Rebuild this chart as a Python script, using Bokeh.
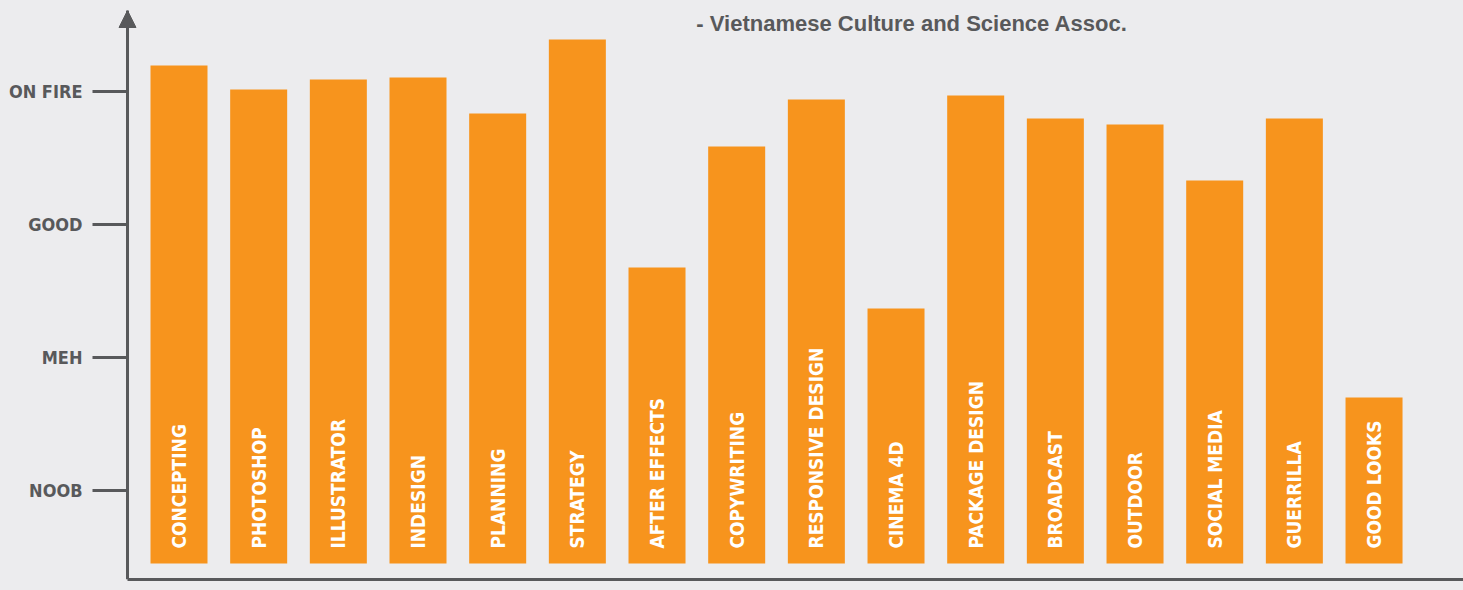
import numpy as np
from bokeh.plotting import figure
from bokeh.models import Range1d, LinearAxis, FixedTicker, ColumnDataSource, Label, Span, Arrow, NormalHead
from bokeh.core.properties import value
from bokeh.embed import file_html
from bokeh.resources import INLINE

skills = ["CONCEPTING", "PHOTOSHOP", "ILLUSTRATOR", "INDESIGN", "PLANNING", "STRATEGY",
          "AFTER EFFECTS", "COPYWRITING", "RESPONSIVE DESIGN", "CINEMA 4D", "PACKAGE DESIGN",
          "BROADCAST", "OUTDOOR", "SOCIAL MEDIA", "GUERRILLA", "GOOD LOOKS"]
levels = [4.195, 4.015, 4.09, 4.105, 3.835, 4.391, 2.677, 3.586, 3.94, 2.368, 3.97,
          3.797, 3.752, 3.331, 3.797, 1.699]
level_ticks = [1, 2, 3, 4]
level_names = ["NOOB", "MEH", "GOOD", "ON FIRE"]
subtitle = "- Vietnamese Culture and Science Assoc."

BG = "#ECECEE"
ORANGE = "#F7941D"
GRAY = "#58595B"
COND = "DejaVu Sans Condensed"
base = 0.451
x0, x1 = -0.5858, 16.623
y0, y1 = 0.331, 4.609
x_axis_pos = -0.1464

x = np.arange(len(skills)) + 0.5
src = ColumnDataSource(dict(x=x, top=levels, name=skills,
                            ly=[base + 15 / 133] * len(skills)))

p = figure(width=1463, height=590, output_backend="svg", toolbar_location=None,
           x_range=Range1d(x0, x1), y_range=Range1d(y0, y1),
           min_border_left=92, min_border_right=0, min_border_top=10, min_border_bottom=11,
           x_axis_location=None, y_axis_location=None)
p.background_fill_color = BG
p.border_fill_color = BG
p.outline_line_color = None
p.grid.visible = False

p.vbar(x="x", top="top", bottom=base, width=0.7155, source=src,
       fill_color=ORANGE, line_color=None)
p.text(x="x", y="ly", text="name", source=src, angle=np.pi / 2,
       text_align="left", text_baseline="middle", text_color="white",
       text_font=value(COND), text_font_style="bold", text_font_size="19px")

yax = LinearAxis(ticker=FixedTicker(ticks=level_ticks),
                 major_label_overrides={t: n for t, n in zip(level_ticks, level_names)})
yax.axis_line_color = None
yax.major_tick_line_color = GRAY
yax.major_tick_line_width = 3
yax.major_tick_in = 35
yax.major_tick_out = 0
yax.minor_tick_line_color = None
yax.major_label_standoff = 10
yax.major_label_text_font = COND
yax.major_label_text_font_style = "bold"
yax.major_label_text_font_size = "18px"
yax.major_label_text_color = GRAY
p.add_layout(yax, "left")

xax = LinearAxis(ticker=FixedTicker(ticks=[]), bounds=(x_axis_pos, x1))
xax.axis_line_color = GRAY
xax.axis_line_width = 3
xax.major_tick_line_color = None
xax.minor_tick_line_color = None
xax.major_label_text_font_size = "0px"
p.add_layout(xax, "below")

# vertical axis line with arrow head
p.add_layout(Span(location=x_axis_pos, dimension="height", line_color=GRAY, line_width=3))
p.add_layout(Arrow(end=NormalHead(size=17, fill_color=GRAY, line_color=GRAY, line_width=1),
                   x_start=x_axis_pos, y_start=y1 - 0.2, x_end=x_axis_pos, y_end=y1,
                   line_color=GRAY, line_width=3))

p.add_layout(Label(x=6.994, y=4.512, text=subtitle, text_font="Liberation Sans",
                   text_font_style="bold", text_font_size="22px", text_color=GRAY,
                   text_align="left", text_baseline="alphabetic"))

html = file_html(p, INLINE)
html = html.replace("<head>", "<head><style>body{background:%s;}</style>" % BG, 1)
open("out.html", "w").write(html)
